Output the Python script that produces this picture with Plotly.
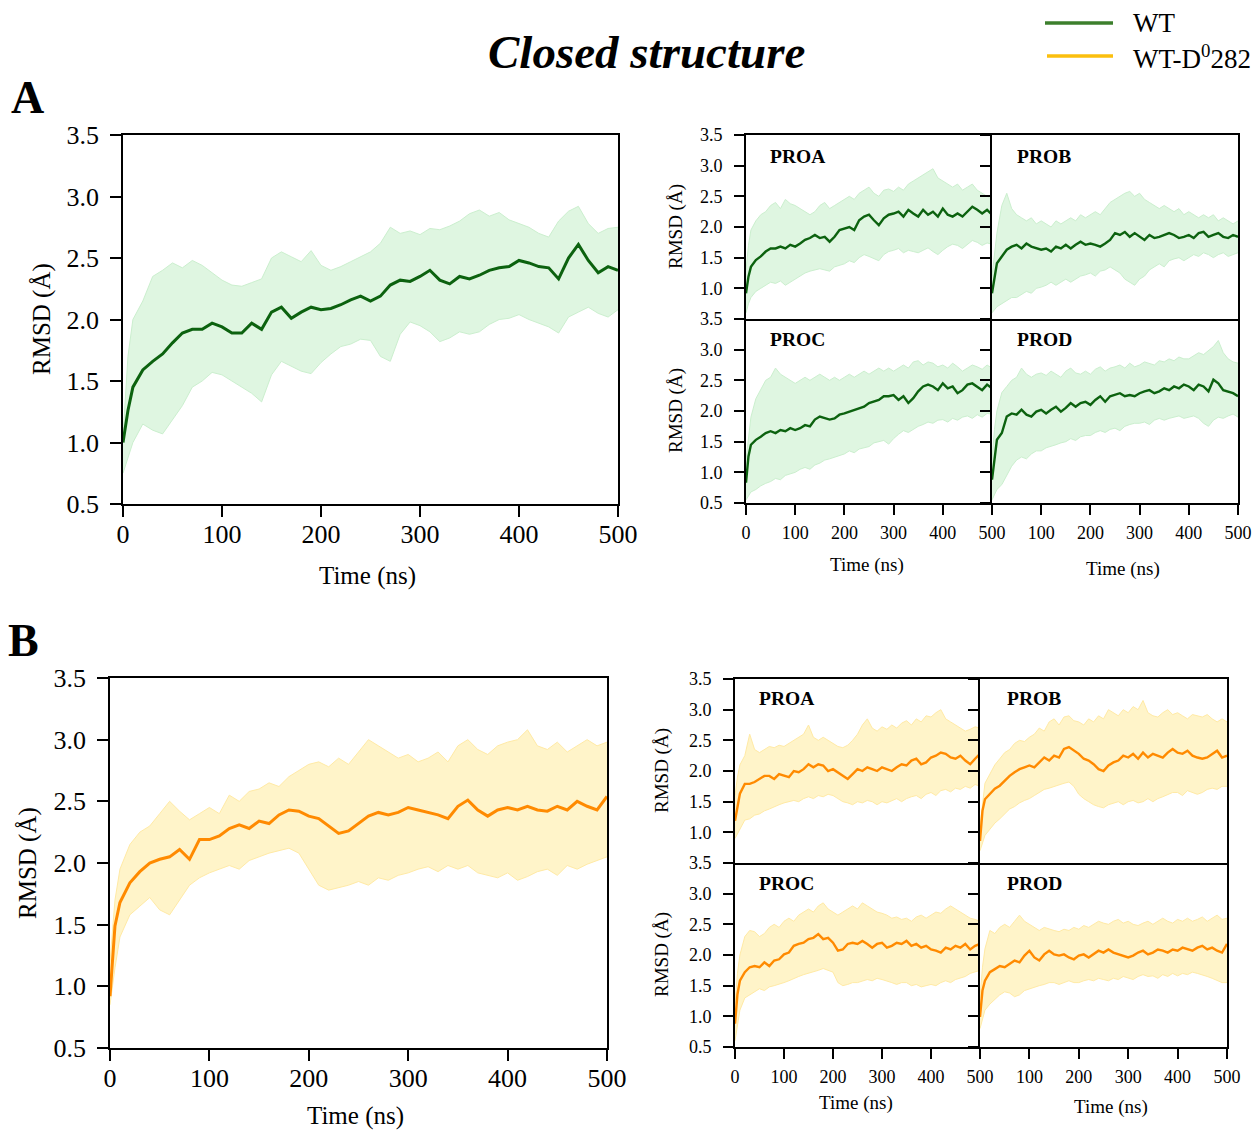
import plotly.graph_objects as go

W, H = 1258, 1131

# ---------------- data (time in ns, RMSD in Å) ----------------
T = [0, 5, 10, 20, 30, 40, 50, 60, 70, 80, 90, 100, 110, 120, 130, 140, 150, 160, 170, 180, 190,
     200, 210, 220, 230, 240, 250, 260, 270, 280, 290, 300, 310, 320, 330, 340, 350, 360, 370, 380,
     390, 400, 410, 420, 430, 440, 450, 460, 470, 480, 490, 500]

# ---- A: WT ----
A_all_mean = [1.00, 1.26, 1.45, 1.59, 1.66, 1.72, 1.81, 1.89, 1.92, 1.92, 1.97, 1.94, 1.89, 1.89, 1.97, 1.92, 2.06, 2.10, 2.01, 2.06, 2.10,
              2.08, 2.09, 2.12, 2.16, 2.19, 2.15, 2.19, 2.28, 2.32, 2.31, 2.35, 2.40, 2.32, 2.29, 2.35, 2.33, 2.36, 2.40, 2.42,
              2.43, 2.48, 2.46, 2.43, 2.42, 2.33, 2.50, 2.61, 2.48, 2.38, 2.43, 2.40]
A_all_upper = [1.05, 1.70, 2.00, 2.15, 2.35, 2.40, 2.46, 2.42, 2.48, 2.44, 2.38, 2.32, 2.28, 2.27, 2.30, 2.33, 2.50, 2.55, 2.51, 2.47, 2.56,
               2.44, 2.40, 2.43, 2.47, 2.51, 2.55, 2.62, 2.75, 2.70, 2.72, 2.69, 2.74, 2.73, 2.76, 2.80, 2.86, 2.89, 2.84, 2.87,
               2.81, 2.78, 2.75, 2.70, 2.67, 2.80, 2.88, 2.92, 2.78, 2.70, 2.74, 2.75]
A_all_lower = [0.75, 0.88, 1.00, 1.15, 1.10, 1.07, 1.18, 1.30, 1.45, 1.50, 1.57, 1.55, 1.50, 1.45, 1.40, 1.33, 1.55, 1.66, 1.62, 1.58, 1.56,
               1.65, 1.72, 1.78, 1.80, 1.84, 1.83, 1.70, 1.66, 1.88, 1.98, 1.95, 1.90, 1.82, 1.85, 1.90, 1.88, 1.90, 1.96, 2.00,
               2.01, 2.04, 2.00, 1.97, 1.94, 1.89, 2.02, 2.06, 2.10, 2.05, 2.02, 2.08]

A_proa_mean = [0.92, 1.19, 1.35, 1.46, 1.52, 1.60, 1.65, 1.65, 1.68, 1.65, 1.71, 1.68, 1.73, 1.79, 1.82, 1.87, 1.82, 1.84, 1.76, 1.84, 1.95,
               1.98, 2.00, 1.95, 2.11, 2.17, 2.20, 2.11, 2.03, 2.14, 2.20, 2.22, 2.25, 2.17, 2.28, 2.22, 2.17, 2.28, 2.20, 2.25,
               2.17, 2.30, 2.20, 2.17, 2.22, 2.17, 2.25, 2.33, 2.28, 2.22, 2.28, 2.20]
A_proa_upper = [1.30, 1.70, 1.95, 2.10, 2.20, 2.25, 2.35, 2.40, 2.30, 2.45, 2.38, 2.35, 2.30, 2.25, 2.20, 2.25, 2.35, 2.40, 2.30, 2.35, 2.40,
                2.45, 2.50, 2.45, 2.55, 2.60, 2.65, 2.55, 2.50, 2.60, 2.62, 2.58, 2.65, 2.60, 2.70, 2.75, 2.80, 2.85, 2.90, 2.95,
                2.80, 2.75, 2.70, 2.65, 2.70, 2.60, 2.65, 2.70, 2.60, 2.55, 2.50, 2.45]
A_proa_lower = [0.60, 0.75, 0.85, 0.95, 1.00, 1.05, 1.10, 1.08, 1.12, 1.05, 1.10, 1.15, 1.20, 1.25, 1.28, 1.30, 1.32, 1.30, 1.28, 1.35, 1.38,
                1.40, 1.45, 1.42, 1.50, 1.55, 1.52, 1.48, 1.45, 1.55, 1.60, 1.62, 1.65, 1.58, 1.62, 1.60, 1.58, 1.62, 1.66, 1.60,
                1.55, 1.62, 1.68, 1.72, 1.70, 1.65, 1.72, 1.78, 1.75, 1.70, 1.74, 1.72]

A_prob_mean = [0.92, 1.20, 1.41, 1.52, 1.63, 1.68, 1.71, 1.65, 1.73, 1.68, 1.65, 1.63, 1.65, 1.60, 1.68, 1.65, 1.71, 1.65, 1.71, 1.76, 1.71,
               1.73, 1.71, 1.68, 1.73, 1.79, 1.90, 1.87, 1.92, 1.84, 1.90, 1.84, 1.79, 1.87, 1.82, 1.84, 1.87, 1.90, 1.87, 1.82,
               1.84, 1.87, 1.82, 1.90, 1.92, 1.84, 1.87, 1.90, 1.84, 1.82, 1.87, 1.84]
A_prob_upper = [1.20, 1.60, 1.90, 2.35, 2.55, 2.30, 2.20, 2.15, 2.10, 2.15, 2.05, 2.10, 2.05, 2.00, 2.10, 2.05, 2.10, 2.15, 2.10, 2.20, 2.15,
                2.20, 2.25, 2.20, 2.30, 2.40, 2.45, 2.50, 2.55, 2.58, 2.50, 2.55, 2.45, 2.40, 2.35, 2.30, 2.35, 2.30, 2.25, 2.30,
                2.20, 2.25, 2.20, 2.15, 2.20, 2.15, 2.20, 2.10, 2.15, 2.10, 2.05, 2.10]
A_prob_lower = [0.60, 0.65, 0.70, 0.75, 0.80, 0.85, 0.85, 0.90, 0.95, 0.92, 1.00, 1.02, 1.05, 1.10, 1.05, 1.10, 1.15, 1.10, 1.15, 1.20, 1.22,
                1.25, 1.20, 1.28, 1.30, 1.35, 1.30, 1.25, 1.15, 1.10, 1.05, 1.15, 1.20, 1.30, 1.35, 1.40, 1.35, 1.45, 1.48, 1.50,
                1.45, 1.50, 1.55, 1.52, 1.58, 1.55, 1.50, 1.55, 1.58, 1.52, 1.55, 1.58]

A_proc_mean = [0.83, 1.26, 1.45, 1.53, 1.58, 1.64, 1.67, 1.64, 1.69, 1.67, 1.72, 1.69, 1.72, 1.77, 1.75, 1.86, 1.91, 1.88, 1.86, 1.88, 1.94,
               1.96, 1.99, 2.02, 2.05, 2.07, 2.13, 2.15, 2.18, 2.24, 2.24, 2.26, 2.18, 2.24, 2.13, 2.21, 2.32, 2.40, 2.43, 2.40,
               2.34, 2.45, 2.37, 2.40, 2.29, 2.34, 2.43, 2.45, 2.40, 2.34, 2.43, 2.37]
A_proc_upper = [1.20, 1.60, 1.90, 2.20, 2.35, 2.50, 2.55, 2.70, 2.60, 2.55, 2.50, 2.45, 2.50, 2.55, 2.50, 2.55, 2.60, 2.55, 2.50, 2.55, 2.50,
                2.55, 2.60, 2.55, 2.60, 2.65, 2.60, 2.65, 2.70, 2.65, 2.70, 2.65, 2.70, 2.75, 2.70, 2.80, 2.82, 2.75, 2.80, 2.78,
                2.72, 2.75, 2.70, 2.78, 2.72, 2.65, 2.70, 2.75, 2.72, 2.68, 2.75, 2.70]
A_proc_lower = [0.55, 0.62, 0.68, 0.72, 0.78, 0.82, 0.85, 0.90, 0.88, 0.95, 0.98, 1.00, 1.05, 1.08, 1.05, 1.12, 1.15, 1.20, 1.22, 1.25, 1.28,
                1.30, 1.35, 1.32, 1.38, 1.40, 1.42, 1.48, 1.50, 1.52, 1.46, 1.55, 1.62, 1.68, 1.65, 1.70, 1.75, 1.78, 1.82, 1.80,
                1.85, 1.86, 1.82, 1.88, 1.85, 1.90, 1.92, 1.88, 1.94, 1.90, 1.96, 1.95]

A_prod_mean = [0.88, 1.26, 1.53, 1.64, 1.91, 1.96, 1.94, 2.02, 1.94, 1.91, 1.99, 2.02, 1.96, 2.02, 2.07, 1.99, 2.05, 2.13, 2.07, 2.13, 2.15,
               2.10, 2.18, 2.24, 2.15, 2.24, 2.26, 2.29, 2.24, 2.26, 2.24, 2.29, 2.32, 2.34, 2.29, 2.32, 2.37, 2.34, 2.40, 2.37,
               2.43, 2.40, 2.34, 2.43, 2.40, 2.32, 2.51, 2.45, 2.34, 2.32, 2.29, 2.24]
A_prod_upper = [1.20, 1.70, 2.00, 2.30, 2.40, 2.50, 2.55, 2.70, 2.60, 2.55, 2.60, 2.62, 2.58, 2.65, 2.60, 2.55, 2.65, 2.70, 2.62, 2.60, 2.65,
                2.60, 2.68, 2.72, 2.65, 2.70, 2.72, 2.75, 2.70, 2.78, 2.72, 2.75, 2.80, 2.78, 2.75, 2.82, 2.80, 2.85, 2.82, 2.88,
                2.85, 2.85, 2.90, 2.95, 2.92, 2.98, 3.05, 3.15, 2.95, 2.85, 2.80, 2.78]
A_prod_lower = [0.55, 0.65, 0.72, 0.80, 0.95, 1.10, 1.20, 1.25, 1.22, 1.30, 1.35, 1.35, 1.40, 1.42, 1.45, 1.48, 1.50, 1.55, 1.52, 1.58, 1.60,
                1.60, 1.65, 1.68, 1.65, 1.70, 1.72, 1.68, 1.75, 1.78, 1.80, 1.80, 1.82, 1.78, 1.85, 1.88, 1.85, 1.88, 1.90, 1.92,
                1.88, 1.90, 1.92, 1.88, 1.80, 1.75, 1.85, 1.90, 1.88, 1.92, 1.95, 1.90]

# ---- B: WT-D0282 ----
B_all_mean = [0.92, 1.49, 1.68, 1.84, 1.93, 2.00, 2.03, 2.05, 2.11, 2.03, 2.19, 2.19, 2.22, 2.28, 2.31, 2.28, 2.34, 2.32, 2.39, 2.43, 2.42,
              2.38, 2.36, 2.30, 2.24, 2.26, 2.32, 2.38, 2.41, 2.39, 2.41, 2.45, 2.43, 2.41, 2.39, 2.36, 2.46, 2.51, 2.43, 2.38,
              2.43, 2.45, 2.43, 2.46, 2.43, 2.42, 2.46, 2.43, 2.50, 2.46, 2.43, 2.54]
B_all_upper = [1.20, 1.70, 1.95, 2.15, 2.25, 2.30, 2.40, 2.50, 2.42, 2.35, 2.40, 2.45, 2.40, 2.55, 2.50, 2.58, 2.60, 2.65, 2.62, 2.70, 2.75,
               2.80, 2.82, 2.78, 2.85, 2.80, 2.90, 3.00, 2.95, 2.90, 2.85, 2.88, 2.82, 2.85, 2.90, 2.82, 2.95, 3.00, 2.92, 2.88,
               2.95, 2.98, 3.00, 3.08, 2.95, 2.92, 2.98, 2.90, 2.95, 3.00, 2.95, 2.98]
B_all_lower = [0.85, 1.15, 1.40, 1.58, 1.65, 1.72, 1.62, 1.58, 1.70, 1.82, 1.88, 1.92, 1.95, 1.98, 1.95, 2.02, 2.05, 2.08, 2.10, 2.12, 2.08,
               1.95, 1.82, 1.78, 1.80, 1.82, 1.85, 1.82, 1.88, 1.86, 1.90, 1.92, 1.95, 1.97, 1.93, 1.98, 1.95, 1.98, 1.92, 1.90,
               1.88, 1.92, 1.86, 1.89, 1.93, 1.95, 1.90, 1.98, 1.95, 1.99, 2.02, 2.05]

B_proa_mean = [1.19, 1.41, 1.63, 1.79, 1.79, 1.82, 1.87, 1.92, 1.92, 1.87, 1.95, 1.92, 1.90, 2.00, 1.98, 2.03, 2.11, 2.06, 2.11, 2.09, 2.00,
               2.03, 1.98, 1.92, 1.87, 1.95, 2.03, 2.00, 2.06, 2.03, 2.00, 2.06, 2.03, 2.00, 2.06, 2.11, 2.09, 2.17, 2.20, 2.11,
               2.14, 2.22, 2.25, 2.30, 2.28, 2.22, 2.20, 2.25, 2.17, 2.11, 2.20, 2.28]
B_proa_upper = [1.60, 1.90, 2.10, 2.25, 2.60, 2.35, 2.30, 2.35, 2.40, 2.38, 2.42, 2.40, 2.45, 2.50, 2.55, 2.60, 2.75, 2.55, 2.50, 2.55, 2.50,
                2.45, 2.40, 2.38, 2.42, 2.50, 2.60, 2.75, 2.85, 2.70, 2.65, 2.72, 2.68, 2.75, 2.70, 2.78, 2.82, 2.75, 2.85, 2.80,
                2.90, 2.88, 2.95, 3.00, 2.85, 2.80, 2.75, 2.70, 2.65, 2.68, 2.72, 2.70]
B_proa_lower = [0.90, 0.98, 1.05, 1.20, 1.22, 1.28, 1.30, 1.35, 1.38, 1.42, 1.45, 1.48, 1.50, 1.52, 1.50, 1.55, 1.58, 1.55, 1.60, 1.58, 1.62,
                1.60, 1.55, 1.50, 1.48, 1.45, 1.50, 1.48, 1.52, 1.50, 1.45, 1.50, 1.48, 1.52, 1.55, 1.50, 1.55, 1.58, 1.60, 1.55,
                1.62, 1.65, 1.60, 1.68, 1.70, 1.66, 1.72, 1.70, 1.75, 1.72, 1.78, 1.75]

B_prob_mean = [0.86, 1.35, 1.54, 1.62, 1.71, 1.76, 1.84, 1.92, 1.98, 2.03, 2.06, 2.09, 2.06, 2.14, 2.22, 2.17, 2.25, 2.22, 2.36, 2.39, 2.33,
               2.28, 2.20, 2.17, 2.11, 2.03, 2.00, 2.09, 2.14, 2.17, 2.25, 2.22, 2.28, 2.20, 2.30, 2.22, 2.28, 2.25, 2.22, 2.30,
               2.36, 2.30, 2.28, 2.33, 2.25, 2.22, 2.20, 2.22, 2.28, 2.33, 2.22, 2.25]
B_prob_upper = [1.10, 1.50, 1.80, 1.95, 2.10, 2.20, 2.30, 2.35, 2.45, 2.50, 2.48, 2.55, 2.60, 2.70, 2.65, 2.80, 2.85, 2.75, 2.88, 2.90, 2.82,
                2.80, 2.75, 2.85, 2.80, 2.90, 2.85, 3.00, 2.95, 2.90, 3.00, 2.95, 3.05, 3.00, 3.15, 2.95, 2.90, 2.88, 2.95, 3.00,
                2.92, 2.95, 2.90, 2.85, 2.92, 2.90, 2.88, 2.92, 2.85, 2.80, 2.85, 2.80]
B_prob_lower = [0.70, 0.82, 0.95, 1.05, 1.15, 1.22, 1.30, 1.38, 1.42, 1.48, 1.52, 1.55, 1.60, 1.65, 1.70, 1.72, 1.75, 1.78, 1.80, 1.82, 1.75,
                1.62, 1.55, 1.50, 1.45, 1.42, 1.40, 1.45, 1.48, 1.50, 1.45, 1.50, 1.52, 1.48, 1.50, 1.55, 1.50, 1.55, 1.58, 1.62,
                1.65, 1.65, 1.60, 1.68, 1.65, 1.62, 1.65, 1.70, 1.72, 1.70, 1.75, 1.75]

B_proc_mean = [0.88, 1.36, 1.58, 1.72, 1.80, 1.82, 1.80, 1.88, 1.82, 1.91, 1.93, 2.01, 2.04, 2.15, 2.18, 2.20, 2.26, 2.28, 2.34, 2.26, 2.28,
               2.20, 2.07, 2.09, 2.18, 2.20, 2.18, 2.23, 2.18, 2.12, 2.18, 2.20, 2.12, 2.15, 2.20, 2.18, 2.23, 2.15, 2.18, 2.12,
               2.15, 2.09, 2.07, 2.04, 2.12, 2.09, 2.15, 2.12, 2.18, 2.09, 2.15, 2.18]
B_proc_upper = [1.20, 1.70, 2.00, 2.30, 2.40, 2.38, 2.30, 2.35, 2.45, 2.50, 2.45, 2.55, 2.60, 2.55, 2.65, 2.70, 2.75, 2.70, 2.80, 2.85, 2.75,
                2.70, 2.65, 2.70, 2.75, 2.80, 2.75, 2.85, 2.80, 2.75, 2.70, 2.68, 2.65, 2.60, 2.62, 2.58, 2.60, 2.55, 2.62, 2.65,
                2.60, 2.65, 2.70, 2.68, 2.75, 2.80, 2.75, 2.70, 2.65, 2.60, 2.58, 2.55]
B_proc_lower = [0.60, 0.85, 1.10, 1.30, 1.35, 1.40, 1.45, 1.42, 1.48, 1.50, 1.52, 1.55, 1.58, 1.62, 1.65, 1.68, 1.70, 1.72, 1.75, 1.78, 1.75,
                1.72, 1.55, 1.50, 1.52, 1.55, 1.55, 1.58, 1.60, 1.58, 1.62, 1.60, 1.58, 1.55, 1.52, 1.55, 1.55, 1.50, 1.52, 1.48,
                1.50, 1.52, 1.50, 1.55, 1.58, 1.55, 1.60, 1.62, 1.65, 1.70, 1.72, 1.75]

B_prod_mean = [0.99, 1.42, 1.58, 1.72, 1.77, 1.82, 1.80, 1.85, 1.91, 1.88, 1.99, 2.07, 1.96, 1.91, 2.01, 2.07, 2.01, 1.99, 2.01, 1.96, 1.93,
               1.99, 2.01, 1.96, 2.01, 2.07, 2.04, 2.09, 2.04, 2.01, 1.99, 1.96, 1.99, 2.04, 2.07, 2.01, 2.04, 2.09, 2.07, 2.04,
               2.09, 2.07, 2.12, 2.09, 2.07, 2.12, 2.15, 2.09, 2.12, 2.07, 2.04, 2.18]
B_prod_upper = [1.30, 1.80, 2.10, 2.40, 2.35, 2.45, 2.50, 2.45, 2.55, 2.65, 2.55, 2.50, 2.45, 2.40, 2.45, 2.42, 2.40, 2.38, 2.42, 2.40, 2.45,
                2.42, 2.48, 2.45, 2.50, 2.55, 2.52, 2.50, 2.55, 2.58, 2.52, 2.55, 2.50, 2.48, 2.52, 2.55, 2.50, 2.55, 2.60, 2.55,
                2.52, 2.58, 2.55, 2.60, 2.55, 2.58, 2.62, 2.55, 2.60, 2.65, 2.58, 2.60]
B_prod_lower = [0.80, 0.95, 1.10, 1.20, 1.28, 1.35, 1.40, 1.38, 1.32, 1.35, 1.42, 1.45, 1.48, 1.50, 1.52, 1.55, 1.55, 1.52, 1.55, 1.58, 1.55,
                1.55, 1.58, 1.60, 1.58, 1.62, 1.60, 1.58, 1.62, 1.60, 1.65, 1.62, 1.60, 1.65, 1.68, 1.65, 1.66, 1.62, 1.68, 1.65,
                1.70, 1.66, 1.70, 1.68, 1.72, 1.70, 1.68, 1.65, 1.62, 1.58, 1.55, 1.55]

Y_TICKS = [0.5, 1.0, 1.5, 2.0, 2.5, 3.0, 3.5]
X_TICKS = [0, 100, 200, 300, 400, 500]
CHAINS = ["PROA", "PROB", "PROC", "PROD"]

# ---------------- styling ----------------
FONT = "Liberation Serif"
GREEN_LINE = "#0c620f"
GREEN_FILL = "#dff6e1"
GREEN_EDGE = "#cbefce"
ORANGE_LINE = "#ff8a00"
YELLOW_FILL = "#fff4c9"
YELLOW_EDGE = "#ffeaa5"
AXW = 1.8


def px(x):
    return x / W


def py(y):
    return 1 - y / H


# panel boxes in pixels: (x0, x1, y0_top, y1_bottom), kind
panels = [
    (A_all_mean, A_all_upper, A_all_lower, (123, 618, 135, 504), "main", "A"),
    (A_proa_mean, A_proa_upper, A_proa_lower, (746, 992, 135, 319), "tl", "A"),
    (A_prob_mean, A_prob_upper, A_prob_lower, (992, 1238, 135, 319), "tr", "A"),
    (A_proc_mean, A_proc_upper, A_proc_lower, (746, 992, 319, 503), "bl", "A"),
    (A_prod_mean, A_prod_upper, A_prod_lower, (992, 1238, 319, 503), "br", "A"),
    (B_all_mean, B_all_upper, B_all_lower, (110, 607, 678, 1048), "main", "B"),
    (B_proa_mean, B_proa_upper, B_proa_lower, (735, 980, 679, 863), "tl", "B"),
    (B_prob_mean, B_prob_upper, B_prob_lower, (980, 1227, 679, 863), "tr", "B"),
    (B_proc_mean, B_proc_upper, B_proc_lower, (735, 980, 863, 1047), "bl", "B"),
    (B_prod_mean, B_prod_upper, B_prod_lower, (980, 1227, 863, 1047), "br", "B"),
]

fig = go.Figure()
layout_axes = {}

for i, (mean, upper, lower, box, kind, grp) in enumerate(panels, start=1):
    assert len(mean) == len(T) and len(upper) == len(T) and len(lower) == len(T)
    xr = "x" if i == 1 else f"x{i}"
    yr = "y" if i == 1 else f"y{i}"
    line_c = GREEN_LINE if grp == "A" else ORANGE_LINE
    fill_c = GREEN_FILL if grp == "A" else YELLOW_FILL
    edge_c = GREEN_EDGE if grp == "A" else YELLOW_EDGE
    lw = 3.0 if kind == "main" else 2.4

    fig.add_trace(go.Scatter(x=T, y=lower, xaxis=xr, yaxis=yr, mode="lines",
                             line=dict(color=edge_c, width=1), showlegend=False, hoverinfo="skip"))
    fig.add_trace(go.Scatter(x=T, y=upper, xaxis=xr, yaxis=yr, mode="lines", fill="tonexty",
                             fillcolor=fill_c, line=dict(color=edge_c, width=1),
                             showlegend=False, hoverinfo="skip"))
    fig.add_trace(go.Scatter(x=T, y=mean, xaxis=xr, yaxis=yr, mode="lines",
                             line=dict(color=line_c, width=lw), showlegend=False))

    x0, x1, y0, y1 = box
    big = kind == "main"
    fsz = 26 if big else 18
    tlen = 11 if big else 10
    ystand = 6 if big else 8
    xstand = -5 if big else 2

    xa = dict(domain=[px(x0), px(x1)], anchor=yr, range=[0, 500], showgrid=False, zeroline=False,
              automargin=False,
              showline=True, mirror=True, linecolor="black", linewidth=AXW,
              ticks="outside", ticklen=tlen, tickwidth=1.5, tickcolor="black",
              ticklabelstandoff=xstand,
              tickvals=X_TICKS, ticktext=[str(v) for v in X_TICKS],
              tickfont=dict(family=FONT, size=fsz, color="black"))
    ya = dict(domain=[py(y1), py(y0)], anchor=xr, range=[0.5, 3.5], showgrid=False, zeroline=False,
              automargin=False,
              showline=True, mirror=True, linecolor="black", linewidth=AXW,
              ticks="outside", ticklen=tlen, tickwidth=1.5, tickcolor="black",
              ticklabelstandoff=ystand,
              tickvals=Y_TICKS, ticktext=[f"{v:.1f}" for v in Y_TICKS],
              tickfont=dict(family=FONT, size=fsz, color="black"))

    if kind in ("tl", "tr"):
        xa["ticks"] = ""
        xa["showticklabels"] = False
        ya["tickvals"] = Y_TICKS[1:]
        ya["ticktext"] = [f"{v:.1f}" for v in Y_TICKS[1:]]
    if kind in ("tr", "br"):
        ya["showticklabels"] = False
    if kind == "br":
        xa["ticktext"] = [""] + [str(v) for v in X_TICKS[1:]]
    # avoid doubled borders where small panels touch
    if kind in ("tl", "bl"):
        ya["mirror"] = False
    if kind in ("bl", "br"):
        xa["mirror"] = False

    layout_axes["xaxis" if i == 1 else f"xaxis{i}"] = xa
    layout_axes["yaxis" if i == 1 else f"yaxis{i}"] = ya

fig.update_layout(**layout_axes)

# ---------------- text annotations ----------------
ann = []


def text(x, y, s, size, bold=False, italic=False, angle=0, xanchor="center"):
    t = s
    if bold:
        t = f"<b>{t}</b>"
    if italic:
        t = f"<i>{t}</i>"
    ann.append(dict(x=px(x), y=py(y), xref="paper", yref="paper", text=t, showarrow=False,
                    font=dict(family=FONT, size=size, color="black"), textangle=angle,
                    xanchor=xanchor, yanchor="middle"))


text(646, 52, "Closed structure", 47, bold=True, italic=True)
text(28, 97, "A", 46, bold=True)
text(23, 640, "B", 46, bold=True)

# axis titles
text(367, 576, "Time (ns)", 25)
text(867, 565, "Time (ns)", 19)
text(1123, 569, "Time (ns)", 19)
text(355, 1116, "Time (ns)", 25)
text(856, 1103, "Time (ns)", 19)
text(1111, 1107, "Time (ns)", 19)
text(42, 319, "RMSD (Å)", 25, angle=-90)
text(676, 227, "RMSD (Å)", 19, angle=-90)
text(676, 411, "RMSD (Å)", 19, angle=-90)
text(28, 863, "RMSD (Å)", 25, angle=-90)
text(662, 771, "RMSD (Å)", 19, angle=-90)
text(662, 955, "RMSD (Å)", 19, angle=-90)

# chain labels
for name, (x, y) in zip(CHAINS, [(768, 156), (1015, 156), (768, 339), (1015, 339)]):
    text(x, y, name, 19.5, bold=True, xanchor="left")
for name, (x, y) in zip(CHAINS, [(757, 698), (1005, 698), (757, 883), (1005, 883)]):
    text(x, y, name, 19.5, bold=True, xanchor="left")

# legend
text(1131, 23, "WT", 27, xanchor="left")
text(1131, 57, "WT-D<sup>0</sup>282", 27, xanchor="left")
shapes = [
    dict(type="line", xref="paper", yref="paper", x0=px(1045), x1=px(1113), y0=py(23), y1=py(23),
         line=dict(color="#3c7f2c", width=3.5)),
    dict(type="line", xref="paper", yref="paper", x0=px(1047), x1=px(1113), y0=py(56), y1=py(56),
         line=dict(color="#fbbf0e", width=3.5)),
]

fig.update_layout(template="none", width=W, height=H, autosize=False,
                  margin=dict(l=0, r=0, t=0, b=0, pad=0),
                  paper_bgcolor="white", plot_bgcolor="white",
                  annotations=ann, shapes=shapes, showlegend=False)

fig.write_html("out.html",
               post_script="document.body.style.margin='0';document.body.style.overflow='hidden';")
